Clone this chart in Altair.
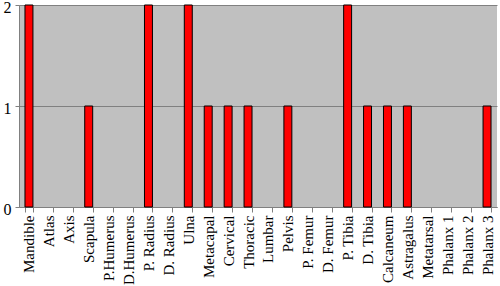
import altair as alt
import pandas as pd

bones = ["Mandible", "Atlas", "Axis", "Scapula", "P.Humerus", "D.Humerus",
         "P. Radius", "D. Radius", "Ulna", "Metacapal", "Cervical", "Thoracic",
         "Lumbar", "Pelvis", "P. Femur", "D. Femur", "P. Tibia", "D. Tibia",
         "Calcaneum", "Astragalus", "Metatarsal", "Phalanx 1", "Phalanx 2", "Phalanx 3"]
counts = [2, 0, 0, 1, 0, 0, 2, 0, 2, 1, 1, 1, 0, 1, 0, 0, 2, 1, 1, 1, 0, 0, 0, 1]

df = pd.DataFrame({"bone": bones, "count": counts})

chart = alt.Chart(df).transform_filter(
    alt.datum["count"] > 0
).mark_bar(
    color="#FF0000", stroke="#000000", strokeWidth=1
).encode(
    x=alt.X("bone:N", title=None,
            scale=alt.Scale(domain=bones, paddingInner=0.6, paddingOuter=0.3),
            axis=alt.Axis(labelAngle=-90, labelAlign="right", labelBaseline="middle",
                          labelFont="Liberation Serif", labelFontSize=15, labelColor="#000000",
                          labelOverlap=False,
                          tickBand="extent", tickColor="#808080", tickSize=5,
                          domainColor="#808080", labelPadding=3)),
    y=alt.Y("count:Q", title=None,
            scale=alt.Scale(domain=[0, 2], nice=False),
            axis=alt.Axis(tickCount=2, format="d", labelFont="Liberation Serif",
                          labelFontSize=16, labelColor="#000000", grid=True,
                          labelOverlap=False, labelOffset=2,
                          gridColor="#808080", gridWidth=1, tickColor="#808080",
                          tickSize=4, domainColor="#808080", labelPadding=4))
).properties(
    width=478, height=202,
    autosize=alt.AutoSizeParams(type="none"),
    padding={"left": 19, "top": 5, "right": 3, "bottom": 79}
).configure_view(
    fill="#C0C0C0", stroke=None
)

chart.save("out.html", embed_options={"renderer": "svg", "actions": False})
